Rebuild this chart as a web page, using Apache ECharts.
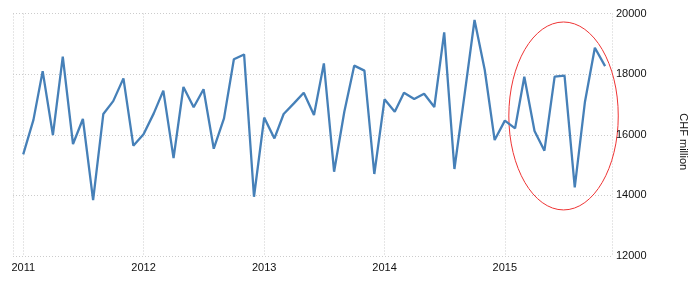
<!DOCTYPE html>
<html>
<head>
<meta charset="utf-8">
<script src="https://cdn.jsdelivr.net/npm/echarts@6/dist/echarts.min.js"></script>
<style>html,body{margin:0;padding:0;background:#fff}#c{width:697px;height:287px}</style>
</head>
<body>
<div id="c"></div>
<script>
var months = ['2011-01','2011-02','2011-03','2011-04','2011-05','2011-06','2011-07','2011-08','2011-09','2011-10','2011-11','2011-12',
'2012-01','2012-02','2012-03','2012-04','2012-05','2012-06','2012-07','2012-08','2012-09','2012-10','2012-11','2012-12',
'2013-01','2013-02','2013-03','2013-04','2013-05','2013-06','2013-07','2013-08','2013-09','2013-10','2013-11','2013-12',
'2014-01','2014-02','2014-03','2014-04','2014-05','2014-06','2014-07','2014-08','2014-09','2014-10','2014-11','2014-12',
'2015-01','2015-02','2015-03','2015-04','2015-05','2015-06','2015-07','2015-08','2015-09','2015-10','2015-11'];
var values = [15355,16490,18100,15990,18575,15695,16520,13845,16685,17110,17860,15640,
16015,16705,17455,15230,17575,16905,17500,15540,16540,18490,18650,13955,
16565,15880,16685,17035,17385,16650,18355,14780,16760,18280,18115,14705,
17170,16760,17385,17180,17355,16915,19380,14870,17340,19785,18135,15825,
16465,16210,17915,16125,15475,17915,17950,14265,17090,18870,18265];
var yTicks = [12000, 14000, 16000, 18000, 20000];
var xMin = '2010-12-01', xMax = '2015-11-22';
var yName = 'CHF million';
// annotation ellipse (data space): center and the point at (center + rx, top)
var ellipseCenter = ['2015-06-28', 16620];
var ellipseEdge = ['2015-12-11', 19720];

var chart = echarts.init(document.getElementById('c'));
var txt = {color: '#111', fontFamily: 'Liberation Sans, Arial, sans-serif', fontSize: 11};
chart.setOption({
  animation: false,
  grid: {left: 13, right: 85, top: 13.5, bottom: 31},
  xAxis: {
    type: 'time', min: xMin, max: xMax,
    splitNumber: 5,
    minInterval: 365 * 24 * 3600 * 1000,
    axisLine: {show: false}, axisTick: {show: false},
    axisLabel: Object.assign({formatter: '{yyyy}', margin: 6, showMinLabel: false}, txt),
    splitLine: {show: true, lineStyle: {color: '#ccc', type: [1, 2], width: 1}}
  },
  yAxis: {
    type: 'value', position: 'right', min: yTicks[0], max: yTicks[yTicks.length - 1], interval: 2000,
    axisLine: {show: false}, axisTick: {show: false},
    axisLabel: Object.assign({margin: 4, formatter: function (v) { return String(v); }}, txt),
    splitLine: {show: true, lineStyle: {color: '#ccc', type: [1, 2], width: 1}},
    name: yName, nameLocation: 'middle', nameRotate: -90, nameGap: 66,
    nameTextStyle: Object.assign({padding: [0, 0, 0, 14]}, txt)
  },
  series: [{
    type: 'line', symbol: 'none',
    data: months.map(function (m, i) { return [m + '-01', values[i]]; }),
    lineStyle: {color: '#4680b8', width: 2.3}
  }]
});
var c = chart.convertToPixel({xAxisIndex: 0, yAxisIndex: 0}, [ellipseCenter[0], ellipseCenter[1]]);
var e = chart.convertToPixel({xAxisIndex: 0, yAxisIndex: 0}, [ellipseEdge[0], ellipseEdge[1]]);
chart.setOption({
  graphic: [{
    type: 'ellipse', shape: {cx: c[0], cy: c[1], rx: Math.abs(e[0] - c[0]), ry: Math.abs(e[1] - c[1])},
    style: {fill: 'none', stroke: '#ee3333', lineWidth: 1}, silent: true
  }]
});
</script>
</body>
</html>
